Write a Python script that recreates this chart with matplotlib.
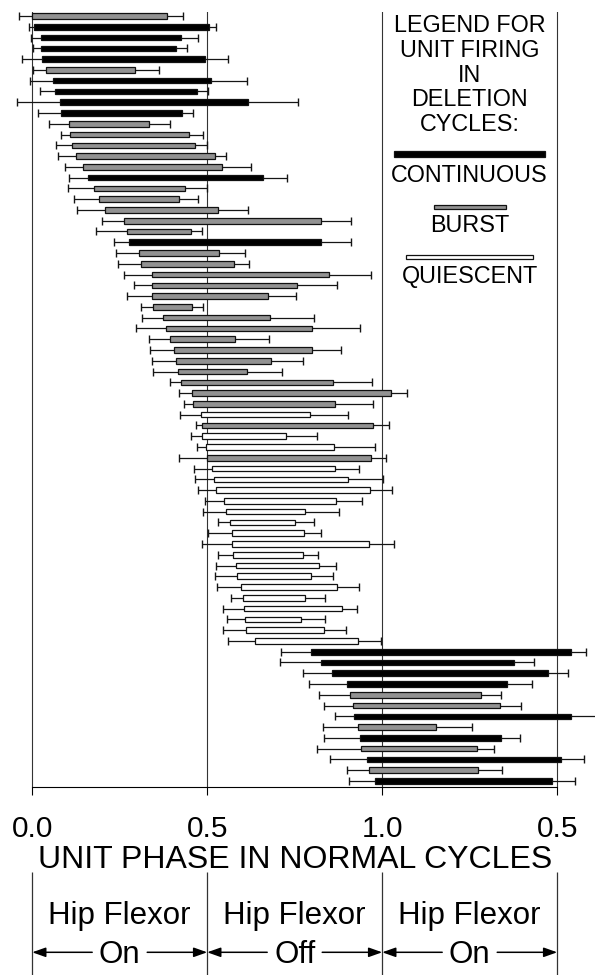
import matplotlib
matplotlib.use("Agg")
import matplotlib.pyplot as plt
from matplotlib.patches import Rectangle

plt.rcParams['font.family'] = ['Liberation Sans', 'DejaVu Sans']

# ---------------- data (phase in normal cycles) ----------------
firing_type = ['B', 'C', 'C', 'C', 'C', 'B', 'C', 'C', 'C', 'C',
               'B', 'B', 'B', 'B', 'B', 'C', 'B', 'B', 'B', 'B',
               'B', 'C', 'B', 'B', 'B', 'B', 'B', 'B', 'B', 'B',
               'B', 'B', 'B', 'B', 'B', 'B', 'B', 'Q', 'B', 'Q',
               'Q', 'B', 'Q', 'Q', 'Q', 'Q', 'Q', 'Q', 'Q', 'Q',
               'Q', 'Q', 'Q', 'Q', 'Q', 'Q', 'Q', 'Q', 'Q', 'C',
               'C', 'C', 'C', 'B', 'B', 'C', 'B', 'C', 'B', 'C',
               'B', 'C']

phase_start = [0.000, 0.005, 0.025, 0.025, 0.027, 0.040, 0.059, 0.065, 0.079, 0.082,
               0.104, 0.107, 0.115, 0.126, 0.146, 0.160, 0.177, 0.192, 0.209, 0.263,
               0.272, 0.277, 0.306, 0.312, 0.341, 0.343, 0.342, 0.344, 0.375, 0.383,
               0.395, 0.405, 0.410, 0.416, 0.425, 0.457, 0.459, 0.482, 0.486, 0.486,
               0.497, 0.499, 0.513, 0.519, 0.524, 0.549, 0.554, 0.564, 0.570, 0.572,
               0.575, 0.583, 0.586, 0.597, 0.602, 0.606, 0.608, 0.611, 0.636, 0.797,
               0.824, 0.857, 0.899, 0.908, 0.917, 0.919, 0.932, 0.937, 0.940, 0.956,
               0.963, 0.979]

phase_end = [0.386, 0.506, 0.424, 0.411, 0.493, 0.295, 0.512, 0.471, 0.617, 0.428,
             0.333, 0.449, 0.465, 0.522, 0.543, 0.660, 0.436, 0.419, 0.530, 0.824,
             0.453, 0.824, 0.535, 0.577, 0.849, 0.756, 0.673, 0.457, 0.680, 0.799,
             0.579, 0.799, 0.682, 0.615, 0.860, 1.024, 0.866, 0.795, 0.974, 0.724,
             0.863, 0.967, 0.866, 0.901, 0.966, 0.867, 0.780, 0.752, 0.777, 0.963,
             0.775, 0.820, 0.797, 0.872, 0.780, 0.884, 0.769, 0.833, 0.932, 1.539,
             1.377, 1.474, 1.356, 1.283, 1.337, 1.539, 1.153, 1.340, 1.272, 1.512,
             1.275, 1.485]

err_lo = [0.038, 0.013, 0.028, 0.024, 0.055, 0.039, 0.064, 0.043, 0.123, 0.066,
          0.056, 0.026, 0.048, 0.053, 0.052, 0.056, 0.076, 0.073, 0.081, 0.064,
          0.090, 0.043, 0.066, 0.066, 0.080, 0.053, 0.070, 0.034, 0.062, 0.087,
          0.062, 0.069, 0.067, 0.072, 0.030, 0.038, 0.025, 0.059, 0.018, 0.031,
          0.026, 0.079, 0.052, 0.054, 0.049, 0.055, 0.066, 0.034, 0.068, 0.088,
          0.045, 0.057, 0.064, 0.070, 0.034, 0.060, 0.052, 0.065, 0.077, 0.086,
          0.117, 0.082, 0.108, 0.089, 0.083, 0.055, 0.102, 0.102, 0.126, 0.105,
          0.064, 0.075]

err_hi = [0.045, 0.019, 0.050, 0.032, 0.067, 0.066, 0.102, 0.032, 0.142, 0.031,
          0.061, 0.040, 0.034, 0.033, 0.081, 0.068, 0.063, 0.055, 0.086, 0.088,
          0.032, 0.087, 0.073, 0.042, 0.118, 0.116, 0.080, 0.031, 0.125, 0.137,
          0.098, 0.083, 0.093, 0.098, 0.111, 0.047, 0.109, 0.106, 0.045, 0.090,
          0.116, 0.044, 0.067, 0.102, 0.062, 0.076, 0.097, 0.052, 0.047, 0.070,
          0.041, 0.048, 0.063, 0.062, 0.057, 0.043, 0.068, 0.063, 0.065, 0.043,
          0.058, 0.056, 0.073, 0.056, 0.060, 0.080, 0.104, 0.054, 0.047, 0.065,
          0.068, 0.066]

tick_values = [0.0, 0.5, 1.0, 1.5]
tick_labels = ['0.0', '0.5', '1.0', '0.5']
section_centers = [0.25, 0.75, 1.25]
section_states = ['On', 'Off', 'On']
legend_title = ['LEGEND FOR', 'UNIT FIRING', 'IN', 'DELETION', 'CYCLES:']
legend_names = {'C': 'CONTINUOUS', 'B': 'BURST', 'Q': 'QUIESCENT'}

# ---------------- styling ----------------
fill = {'C': 'black', 'B': '#929292', 'Q': 'white'}
edge = '#111111'
W, H = 595, 975
x0px, ppu = 32.2, 350.0
xlim = (-x0px / ppu, (W - x0px) / ppu)

fig = plt.figure(figsize=(W / 100, H / 100), dpi=100)
ax_top_px, ax_bot_px = 11.7, 787.3
ax = fig.add_axes([0, (H - ax_bot_px) / H, 1, (ax_bot_px - ax_top_px) / H])
n = len(phase_start)
rows = list(range(n))
ax.set_xlim(xlim)
ax.set_ylim(n - 1 + 0.585, -0.4)

for v in tick_values:
    ax.axvline(v, color='#333333', lw=0.8, zorder=1)

lefts = [s - lo for s, lo in zip(phase_start, err_lo)]
rights = [e + hi for e, hi in zip(phase_end, err_hi)]
ax.hlines(rows, lefts, phase_start, color='#151515', lw=0.9, zorder=2)
ax.hlines(rows, phase_end, rights, color='#151515', lw=0.9, zorder=2)
ax.plot(lefts, rows, ls='none', marker='|', ms=5.2, mew=1.0, color='#151515', zorder=2)
ax.plot(rights, rows, ls='none', marker='|', ms=5.2, mew=1.0, color='#151515', zorder=2)

widths = [e - s for s, e in zip(phase_start, phase_end)]
ax.barh(rows, widths, left=phase_start, height=0.52,
        color=[fill[t] for t in firing_type], edgecolor=edge, linewidth=0.9, zorder=3)

# axes decoration
for side in ['top', 'left', 'right']:
    ax.spines[side].set_visible(False)
ax.spines['bottom'].set_bounds(0, 1.5)
ax.spines['bottom'].set_linewidth(0.8)
ax.set_yticks([])
ax.set_xticks(tick_values)
ax.set_xticklabels(tick_labels)
ax.tick_params(axis='x', direction='out', length=5.8, width=0.8, pad=14.5, labelsize=21.5)

ax.annotate('UNIT PHASE IN NORMAL CYCLES', xy=(0.75, H - 868.3),
            xycoords=('data', 'figure pixels'), ha='center', va='baseline', fontsize=23)

# legend inside the plot
title_baselines = [1.46, 3.78, 6.1, 8.36, 10.65]
for txt, yb in zip(legend_title, title_baselines):
    ax.text(1.25, yb, txt, ha='center', va='baseline', fontsize=16.8, zorder=4)

legend_items = [('C', 1.035, 1.466, 12.81, 0.52, 15.39),
                ('B', 1.148, 1.354, 17.70, 0.38, 20.03),
                ('Q', 1.068, 1.431, 22.40, 0.36, 24.80)]
for key, xa, xb, yc, hh, yt in legend_items:
    ax.add_patch(Rectangle((xa, yc - hh / 2), xb - xa, hh, facecolor=fill[key],
                           edgecolor=edge, linewidth=0.9, zorder=4))
    ax.text(1.25, yt, legend_names[key], ha='center', va='baseline', fontsize=16.8, zorder=4)

# bottom section: hip flexor phases
sec_h = H - 871.7
ax2 = fig.add_axes([0, 0, 1, sec_h / H])
ax2.set_xlim(xlim)
ax2.set_ylim(0, sec_h)
ax2.axis('off')
ax2.vlines(tick_values, 0, sec_h, color='#333333', lw=0.9)
arrow_y = H - 952.3
half_gap = 27.5 / ppu
for i, (c, st) in enumerate(zip(section_centers, section_states)):
    ax2.text(c, H - 924, 'Hip Flexor', ha='center', va='baseline', fontsize=22.5)
    ax2.text(c, H - 963.3, st, ha='center', va='baseline', fontsize=22.5)
    lo, hi = tick_values[i], tick_values[i + 1]
    props = dict(arrowstyle='-|>,head_length=0.45,head_width=0.16', color='black',
                 lw=1.1, shrinkA=0, shrinkB=0, mutation_scale=18)
    ax2.annotate('', xy=(lo, arrow_y), xytext=(c - half_gap, arrow_y), arrowprops=props)
    ax2.annotate('', xy=(hi, arrow_y), xytext=(c + half_gap, arrow_y), arrowprops=props)

fig.savefig('out.png', dpi=100)
